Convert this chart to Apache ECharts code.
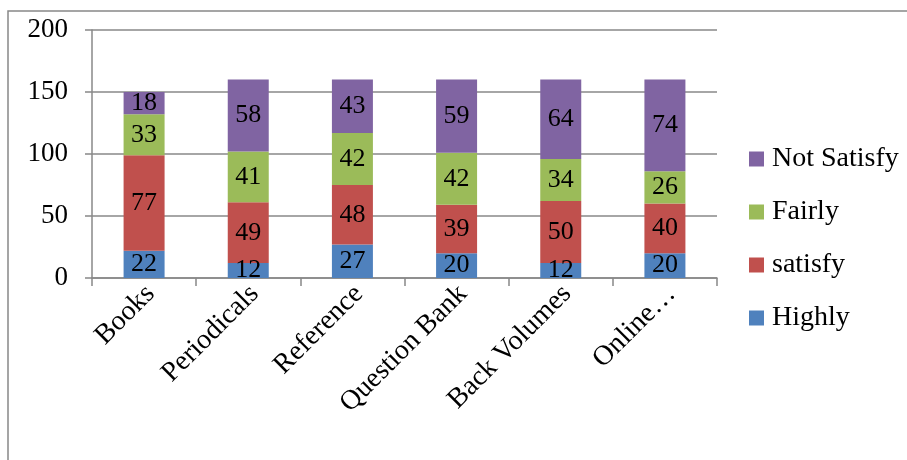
<!DOCTYPE html>
<html>
<head>
<meta charset="utf-8">
<script src="https://cdn.jsdelivr.net/npm/echarts@6/dist/echarts.min.js"></script>
<style>
html,body{margin:0;padding:0;background:#fff;}
#chart{width:907px;height:460px;}
</style>
</head>
<body>
<div id="chart"></div>
<script>
var categories = ['Books', 'Periodicals', 'Reference', 'Question Bank', 'Back Volumes', 'Online\u2026'];
var highly = [22, 12, 27, 20, 12, 20];
var satisfy = [77, 49, 48, 39, 50, 40];
var fairly = [33, 41, 42, 42, 34, 26];
var notSatisfy = [18, 58, 43, 59, 64, 74];
var yTicks = [0, 50, 100, 150, 200];

var FONT = '"Liberation Serif", "Times New Roman", serif';
var chart = echarts.init(document.getElementById('chart'));

function mk(name, data, color) {
  return {
    name: name,
    type: 'bar',
    stack: 'total',
    data: data,
    barWidth: 41,
    itemStyle: { color: color },
    label: {
      show: true,
      position: 'inside',
      color: '#000',
      fontFamily: FONT,
      fontSize: 26
    }
  };
}

chart.setOption({
  animation: false,
  backgroundColor: '#fff',
  graphic: [{
    type: 'rect',
    shape: { x: 8, y: 11, width: 1200, height: 1000 },
    style: { fill: 'none', stroke: '#888', lineWidth: 1.5 },
    silent: true,
    z: -1
  }],
  grid: { left: 92, right: 190, top: 30, bottom: 182, containLabel: false },
  legend: {
    orient: 'vertical',
    left: 749,
    top: 145,
    padding: 0,
    data: ['Not Satisfy', 'Fairly', 'satisfy', 'Highly'],
    itemWidth: 15,
    itemHeight: 15,
    itemGap: 25,
    icon: 'rect',
    textStyle: { fontFamily: FONT, fontSize: 28, color: '#000', padding: [0, 0, 0, 3] }
  },
  xAxis: {
    type: 'category',
    data: categories,
    axisLine: { lineStyle: { color: '#888', width: 1.5 } },
    axisTick: { show: true, length: 8, lineStyle: { color: '#888', width: 1.5 } },
    axisLabel: {
      rotate: 45,
      interval: 0,
      margin: 18,
      padding: [0, -9, 0, 0],
      color: '#000',
      fontFamily: FONT,
      fontSize: 28
    }
  },
  yAxis: {
    type: 'value',
    min: yTicks[0],
    max: yTicks[yTicks.length - 1],
    interval: 50,
    axisLine: { show: true, lineStyle: { color: '#888', width: 1.5 } },
    axisTick: { show: true, length: 7, lineStyle: { color: '#888', width: 1.5 } },
    splitLine: { lineStyle: { color: '#888', width: 1.5 } },
    axisLabel: {
      margin: 24,
      color: '#000',
      fontFamily: FONT,
      fontSize: 27
    }
  },
  series: [
    mk('Highly', highly, '#4F81BD'),
    mk('satisfy', satisfy, '#C0504D'),
    mk('Fairly', fairly, '#9BBB59'),
    mk('Not Satisfy', notSatisfy, '#8064A2')
  ]
});
</script>
</body>
</html>
